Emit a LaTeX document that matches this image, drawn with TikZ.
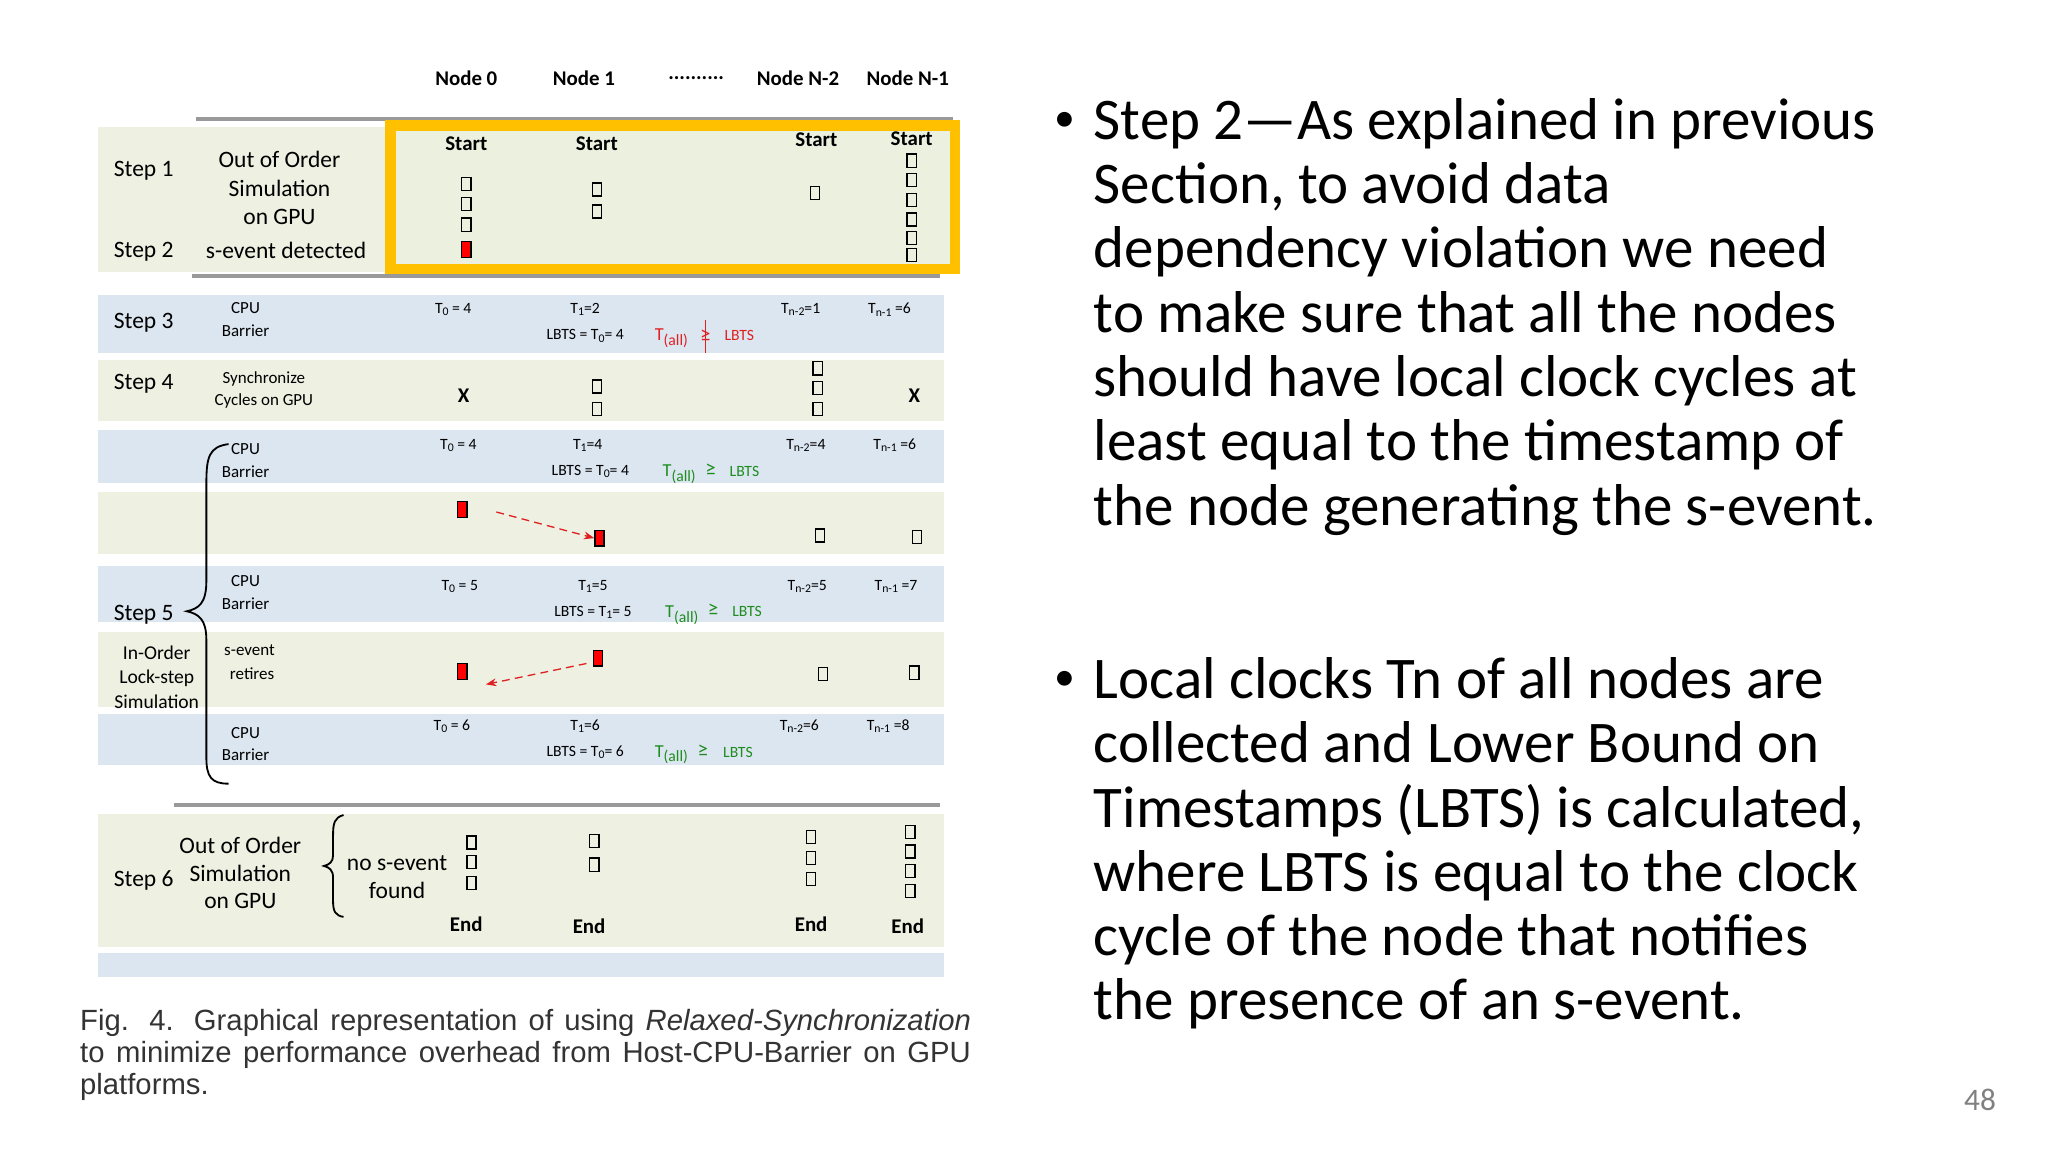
\documentclass[tikz,border=0pt]{standalone}
\usepackage{fontspec}
\setmainfont{Carlito}
\newfontfamily\capfont{Liberation Sans}
\usetikzlibrary{arrows.meta}
\newcommand{\sbx}[1]{\raisebox{-0.35ex}{\fontsize{4.5}{5}\selectfont #1}}
\newcommand{\sbxb}[1]{\raisebox{-0.5ex}{\fontsize{6}{6}\selectfont #1}}
\definecolor{bandg}{HTML}{EEF0E2}
\definecolor{bandb}{HTML}{DCE6F1}
\definecolor{inner}{HTML}{EBF1DE}
\definecolor{orng}{HTML}{FFC000}
\definecolor{grn}{HTML}{1E8C1E}
\definecolor{rd}{HTML}{E02020}
\tikzset{
 sq/.style={draw=black,line width=0.5pt,minimum width=3.5pt,minimum height=5pt,inner sep=0pt},
 rsq/.style={sq,fill=red,minimum height=6pt},
 lbl/.style={font=\fontsize{9}{10}\selectfont,inner sep=0pt,align=center},
 sm/.style={font=\fontsize{6.5}{9}\selectfont,inner sep=0pt,align=center},
 tt/.style={font=\fontsize{6}{7}\selectfont,inner sep=0pt},
 hd/.style={font=\bfseries\fontsize{8}{9}\selectfont,inner sep=0pt},
 grayline/.style={draw=gray!80,line width=1.5pt},
 sarrow/.style={draw=rd,densely dashed,line width=0.5pt,-{Stealth[length=4pt]}},
 bullet/.style={font=\fontsize{22.6}{24.6}\selectfont,inner sep=0pt,anchor=north west,align=left},
 bdot/.style={font=\fontsize{16}{16}\selectfont,inner sep=0pt}
}
\begin{document}
\begin{tikzpicture}[x=0.5pt,y=-0.5pt]
\useasboundingbox (0,0) rectangle (1568,882);
\fill[white] (0,0) rectangle (1568,882);
% headers
\node[hd] (h0) at (357,60) {Node 0};
\node[hd] (h1) at (447,60) {Node 1};
\node[hd] (hd) at (533,60) {..........};
\node[hd] (h2) at (611,60) {Node N-2};
\node[hd] (h3) at (695,60) {Node N-1};
% bands
\fill[bandg] (75,97) rectangle (730,208);
\fill[bandb] (75,226) rectangle (723,270);
\fill[bandg] (75,276) rectangle (723,322);
\fill[bandb] (75,329) rectangle (723,370);
\fill[bandg] (75,377) rectangle (723,424);
\fill[bandb] (75,433) rectangle (723,476);
\fill[bandg] (75,484) rectangle (723,541);
\fill[bandb] (75,547) rectangle (723,586);
\fill[bandg] (75,623) rectangle (723,725);
\fill[bandb] (75,730) rectangle (723,748);
\draw[grayline] (150,91) -- (730,91);
\draw[grayline] (147,211) -- (720,211);
\draw[grayline] (133,616) -- (720,616);
\fill[inner] (299,96) rectangle (731,206);
\draw[orng,line width=4pt] (299,96) rectangle (731,206);
% step 1/2
\node[lbl] (s1) at (110,131) {Step 1};
\node[lbl] (s2) at (110,193) {Step 2};
\node[lbl] (o1) at (214,122) {Out of Order};
\node[lbl] (o2) at (214,144) {Simulation};
\node[lbl] (o3) at (214,166) {on GPU};
\node[lbl] (sd) at (219,192) {s-event detected};
\node[hd] (st0) at (357,110) {Start};
\node[hd] (st1) at (457,110) {Start};
\node[hd] (st2) at (625,107) {Start};
\node[hd] (st3) at (698,106) {Start};
\foreach \y [count=\i] in {141,156,172} \node[sq] (a\i) at (357,\y) {};
\node[rsq] (ar) at (357,191) {};
\foreach \y [count=\i] in {145,162} \node[sq] (b\i) at (457,\y) {};
\node[sq] (c1) at (624,148) {};
\foreach \y [count=\i] in {123,138,153,168,182,195} \node[sq] (d\i) at (698,\y) {};
% step 3
\node[lbl] (s3) at (110,247) {Step 3};
\node[sm] (c3a) at (188,236) {CPU};
\node[sm] (c3b) at (188,253) {Barrier};
\node[tt] (t30) at (347,237) {T\sbx{0} = 4};
\node[tt] (t31) at (448,237) {T\sbx{1}=2};
\node[tt] (t32) at (613,237) {T\sbx{n-2}=1};
\node[tt] (t33) at (681,237) {T\sbx{n-1} =6};
\node[tt] (l3) at (448,257) {LBTS = T\sbx{0}= 4};
\node[tt,text=rd,font=\fontsize{7}{8}\selectfont] (ta3) at (514,259) {T\sbxb{(all)}};
\node[tt,text=rd,font=\fontsize{8}{8}\selectfont] (g3) at (540,257) {≥};
\draw[rd,line width=0.6pt] (540,245) -- (540,270);
\node[tt,text=rd] (lb3) at (566,257) {LBTS};
% step 4
\node[lbl] (s4) at (110,294) {Step 4};
\node[sm] (sy1) at (202,290) {Synchronize};
\node[sm] (sy2) at (202,307) {Cycles on GPU};
\node[hd] (x0) at (355,303) {X};
\foreach \y [count=\i] in {296,313} \node[sq] (e\i) at (457,\y) {};
\foreach \y [count=\i] in {282,297,313} \node[sq] (f\i) at (626,\y) {};
\node[hd] (x3) at (700,303) {X};
% row 5a
\node[sm] (c5a) at (188,344) {CPU};
\node[sm] (c5b) at (188,361) {Barrier};
\node[tt] (t50) at (351,341) {T\sbx{0} = 4};
\node[tt] (t51) at (450,341) {T\sbx{1}=4};
\node[tt] (t52) at (617,341) {T\sbx{n-2}=4};
\node[tt] (t53) at (685,341) {T\sbx{n-1} =6};
\node[tt] (l5) at (452,361) {LBTS = T\sbx{0}= 4};
\node[tt,text=grn,font=\fontsize{7}{8}\selectfont] (ta5) at (520,363) {T\sbxb{(all)}};
\node[tt,text=grn,font=\fontsize{8}{8}\selectfont] (g5) at (544,360) {≥};
\node[tt,text=grn] (lb5) at (570,361) {LBTS};
% row 5b
\node[rsq] (r1) at (354,390) {};
\node[rsq] (r2) at (459,412) {};
\coordinate (r1e) at (380,392);
\draw[sarrow] (r1e) -- (r2.west);
\node[sq] (g1) at (628,410) {};
\node[sq] (g2) at (702,411) {};
% row 5c
\node[sm] (c6a) at (188,445) {CPU};
\node[sm] (c6b) at (188,462) {Barrier};
\node[tt] (t60) at (352,449) {T\sbx{0} = 5};
\node[tt] (t61) at (454,449) {T\sbx{1}=5};
\node[tt] (t62) at (618,449) {T\sbx{n-2}=5};
\node[tt] (t63) at (686,449) {T\sbx{n-1} =7};
\node[tt] (l6) at (454,469) {LBTS = T\sbx{1}= 5};
\node[tt,text=grn,font=\fontsize{7}{8}\selectfont] (ta6) at (522,471) {T\sbxb{(all)}};
\node[tt,text=grn,font=\fontsize{8}{8}\selectfont] (g6) at (546,467) {≥};
\node[tt,text=grn] (lb6) at (572,468) {LBTS};
% step 5 label & brace
\node[lbl] (s5) at (110,471) {Step 5};
\draw[line width=0.7pt] (175,340) .. controls (160,342) and (158,350) .. (158,370) -- (158,445) .. controls (158,462) and (152,466) .. (143,468) .. controls (152,470) and (158,474) .. (158,490) -- (158,580) .. controls (158,595) and (162,600) .. (175,600);
\node[sm,font=\fontsize{7.5}{9}\selectfont] (io1) at (120,500) {In-Order};
\node[sm,font=\fontsize{7.5}{9}\selectfont] (io2) at (120,519) {Lock-step};
\node[sm,font=\fontsize{7.5}{9}\selectfont] (io3) at (120,537) {Simulation};
\node[sm] (se1) at (191,498) {s-event};
\node[sm] (se2) at (193,516) {retires};
\node[rsq] (r3) at (354,514) {};
\node[rsq] (r4) at (458,504) {};
\coordinate (r4e) at (449,508);
\coordinate (r3e) at (372,524);
\draw[sarrow] (r4e) -- (r3e);
\node[sq] (g3b) at (630,516) {};
\node[sq] (g4b) at (700,515) {};
% row 5e
\node[sm] (c7a) at (188,561) {CPU};
\node[sm] (c7b) at (188,578) {Barrier};
\node[tt] (t70) at (346,556) {T\sbx{0} = 6};
\node[tt] (t71) at (448,556) {T\sbx{1}=6};
\node[tt] (t72) at (612,556) {T\sbx{n-2}=6};
\node[tt] (t73) at (680,556) {T\sbx{n-1} =8};
\node[tt] (l7) at (448,576) {LBTS = T\sbx{0}= 6};
\node[tt,text=grn,font=\fontsize{7}{8}\selectfont] (ta7) at (514,578) {T\sbxb{(all)}};
\node[tt,text=grn,font=\fontsize{8}{8}\selectfont] (g7) at (538,575) {≥};
\node[tt,text=grn] (lb7) at (565,576) {LBTS};
% step 6
\node[lbl] (s6) at (110,674) {Step 6};
\node[lbl] (p1) at (184,647) {Out of Order};
\node[lbl] (p2) at (184,669) {Simulation};
\node[lbl] (p3) at (184,690) {on GPU};
\draw[line width=0.7pt] (263,624) .. controls (256,626) and (255,630) .. (255,640) -- (255,655) .. controls (255,660) and (252,662) .. (248,663) .. controls (252,664) and (255,666) .. (255,672) -- (255,690) .. controls (255,698) and (257,701) .. (263,702);
\node[lbl] (n1) at (304,661) {no s-event};
\node[lbl] (n2) at (304,682) {found};
\foreach \y [count=\i] in {645,660,676} \node[sq] (k\i) at (361,\y) {};
\foreach \y [count=\i] in {644,662} \node[sq] (m\i) at (455,\y) {};
\foreach \y [count=\i] in {641,657,673} \node[sq] (q\i) at (621,\y) {};
\foreach \y [count=\i] in {637,652,667,682} \node[sq] (w\i) at (697,\y) {};
\node[hd] (e0) at (357,708) {End};
\node[hd] (e1) at (451,709) {End};
\node[hd] (e2) at (621,708) {End};
\node[hd] (e3) at (695,709) {End};
% caption
\node[inner sep=0pt,anchor=north west,text=black!80] (cap) at (61,772) {\parbox{341pt}{\capfont\fontsize{11.2}{12.4}\selectfont\hyphenpenalty=10000\exhyphenpenalty=10000 Fig. 4. Graphical representation of using \textit{Relaxed-Synchronization} to minimize performance overhead from Host-CPU-Barrier on GPU platforms.}};
% bullets
\node[bdot] (b1d) at (815,93) {•};
\node[bullet] (b1) at (837,75) {Step 2—As explained in previous\\Section, to avoid data\\dependency violation we need\\to make sure that all the nodes\\should have local clock cycles at\\least equal to the timestamp of\\the node generating the s-event.};
\node[bdot] (b2d) at (815,521) {•};
\node[bullet] (b2) at (837,503) {Local clocks Tn of all nodes are\\collected and Lower Bound on\\Timestamps (LBTS) is calculated,\\where LBTS is equal to the clock\\cycle of the node that notifies\\the presence of an s-event.};
\node[font=\fontsize{12}{12}\selectfont,text=gray] (pg) at (1516,842) {48};
\end{tikzpicture}
\end{document}
